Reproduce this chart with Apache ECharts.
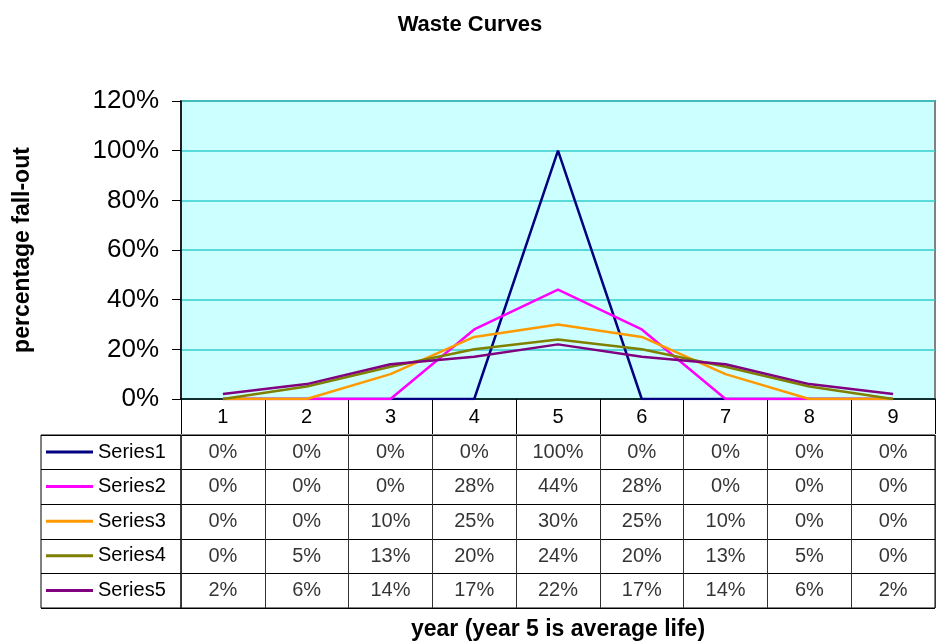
<!DOCTYPE html>
<html>
<head>
<meta charset="utf-8">
<script src="https://cdn.jsdelivr.net/npm/echarts@6/dist/echarts.min.js"></script>
<style>html,body{margin:0;padding:0;background:#fff}#c{width:940px;height:642px}</style>
</head>
<body>
<div id="c"></div>
<script>
var categories = ['1','2','3','4','5','6','7','8','9'];
var seriesNames = ['Series1','Series2','Series3','Series4','Series5'];
var series1 = [0,0,0,0,100,0,0,0,0];
var series2 = [0,0,0,28,44,28,0,0,0];
var series3 = [0,0,10,25,30,25,10,0,0];
var series4 = [0,5,13,20,24,20,13,5,0];
var series5 = [2,6,14,17,22,17,14,6,2];
var yTicks = [0,20,40,60,80,100,120];
var colors = ['#000080','#ff00ff','#ff9900','#808000','#800080'];

var allSeries = [series1,series2,series3,series4,series5];
var FONT = 'Liberation Sans, Arial, sans-serif';

var lineSeries = allSeries.map(function(d,i){
  return {
    name: seriesNames[i], type:'line', data:d, xAxisIndex:0, yAxisIndex:0,
    symbol:'none', color:colors[i], lineStyle:{width:2.5,color:colors[i]}, z: 2+i
  };
});

var cellData = [];
allSeries.forEach(function(d,r){
  d.forEach(function(v,c){ cellData.push([c, r, v]); });
});

var option = {
  backgroundColor:'#fff',
  animation:false,
  textStyle:{fontFamily:FONT},
  title:{text:'Waste Curves', left:'center', top:9,
    textStyle:{fontFamily:FONT,fontSize:22,fontWeight:'bold',color:'#000'}},
  legend:{
    orient:'vertical', left:46, top:442, padding:0, itemGap:14.6,
    itemWidth:47, itemHeight:3, selectedMode:false,
    icon:'rect',
    data:seriesNames,
    textStyle:{fontFamily:FONT,fontSize:20,color:'#000',lineHeight:20}
  },
  grid:[
    {left:181, top:101, width:754, height:299, show:true, backgroundColor:'#ccffff', borderColor:'#808080', borderWidth:2},
    {left:181, top:435, width:754, height:173, show:true, borderColor:'#000', borderWidth:1},
    {left:41, top:435, width:140, height:173, show:true, borderColor:'#000', borderWidth:1}
  ],
  xAxis:[
    {gridIndex:0, type:'category', data:categories, boundaryGap:true,
     axisLine:{lineStyle:{color:'#000',width:1.5}},
     axisTick:{show:true, interval:0, length:35, lineStyle:{color:'#000'}},
     axisLabel:{fontFamily:FONT,fontSize:20,color:'#000',margin:8,interval:0},
     name:'year (year 5 is average life)', nameLocation:'middle', nameGap:219,
     nameTextStyle:{fontFamily:FONT,fontSize:23,fontWeight:'bold',color:'#000'}},
    {gridIndex:1, type:'category', data:categories, boundaryGap:true,
     axisLine:{show:false}, axisTick:{show:false}, axisLabel:{show:false},
     splitLine:{show:true, interval:0, lineStyle:{color:'#333',width:1}}},
    {gridIndex:2, type:'value', min:0, max:1, show:false}
  ],
  yAxis:[
    {gridIndex:0, type:'value', min:0, max:120, interval:20,
     axisLine:{show:true, lineStyle:{color:'#000',width:1.5}},
     axisTick:{show:true, length:9, lineStyle:{color:'#000'}},
     axisLabel:{fontFamily:FONT,fontSize:26,color:'#000',margin:22,
       formatter:function(v){return v+'%';}},
     splitLine:{show:true, lineStyle:{color:'#33cccc',width:1.5}},
     name:'percentage fall-out', nameLocation:'middle', nameGap:147,
     nameTextStyle:{fontFamily:FONT,fontSize:23,fontWeight:'bold',color:'#000'}},
    {gridIndex:1, type:'category', data:seriesNames, inverse:true,
     axisLine:{show:false}, axisTick:{show:false}, axisLabel:{show:false},
     splitLine:{show:true, interval:0, lineStyle:{color:'#000',width:1}}},
    {gridIndex:2, type:'category', data:seriesNames, inverse:true,
     axisLine:{show:false}, axisTick:{show:false}, axisLabel:{show:false},
     splitLine:{show:true, interval:0, lineStyle:{color:'#000',width:1}}}
  ],
  series: lineSeries.concat([{
    type:'scatter', xAxisIndex:1, yAxisIndex:1, data:cellData,
    symbolSize:0, silent:true,
    label:{show:true, position:'inside', fontFamily:FONT, fontSize:20, color:'#000',
      formatter:function(p){return p.value[2]+'%';}}
  }])
};
var chart = echarts.init(document.getElementById('c'), null, {renderer:'canvas'});
chart.setOption(option);
</script>
</body>
</html>
